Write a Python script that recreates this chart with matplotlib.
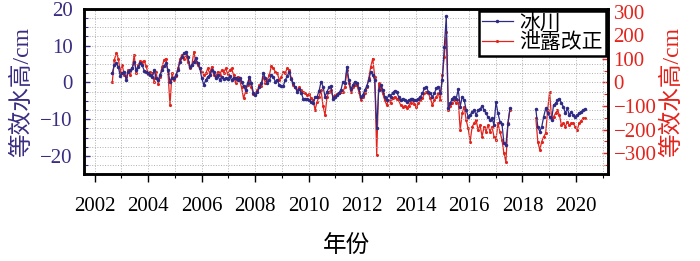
import numpy as np
import matplotlib
matplotlib.use('Agg')
import matplotlib.pyplot as plt
from matplotlib.ticker import MultipleLocator

plt.rcParams['font.family'] = ['Liberation Serif', 'Noto Sans CJK SC']
plt.rcParams['axes.unicode_minus'] = True

# segment time ranges (decimal years), data roughly monthly
seg1_range = (2002.66, 2017.53)
seg2_range = (2018.50, 2020.34)

# glacier signal, cm
glacier_1 = [2.6, 4.7, 5.2, 4.2, 1.7, 2.6, 2.9, 0.6, 2.9, 3.3, 3.8, 5.6, 3.3, 4.2, 5.3, 4.7,
             3.2, 2.9, 2.6, 2.0, 1.5, 3.3, 1.3, 0.6, 2.0, 3.3, 4.4, 5.2, 3.3, 0.2, 1.3, 1.1,
             2.0, 3.3, 5.6, 7.0, 7.9, 8.3, 7.0, 4.2, 4.7, 5.6, 6.5, 5.2, 3.8, 1.1, -0.7, 0.6,
             1.5, 2.0, 3.3, 2.9, 1.1, 2.0, 0.6, 1.5, 0.8, 1.1, 0.8, 1.7, 0.6, 1.3, 1.1, 0.6,
             1.3, 0.2, -1.0, -2.1, -0.3, 1.5, -0.3, -3.0, -3.5, -2.5, -1.4, -0.3, 2.6, 1.1,
             -0.1, 0.6, 2.0, 1.5, 0.2, 0.6, -0.7, -1.0, -1.0, 0.6, 1.7, 2.9, 0.8, -0.3, -1.4,
             -2.5, -1.9, -2.8, -4.4, -4.6, -4.6, -4.8, -5.3, -5.7, -3.9, -3.9, -2.3, 0.2, -1.2,
             -3.9, -2.5, -1.4, -1.0, -4.4, -3.9, -3.5, -2.8, -2.1, 0.2, -0.3, 4.2,
             0.6, -1.9, -0.7, 0.2, -0.3, -1.6, -3.9, -3.5, -2.1, -1.0, 0.6, 2.9, 2.0, 0.6,
             -12.5, -2.1, -0.7, -2.1, -3.9, -4.8, -3.5, -3.9, -2.8, -2.3, -2.5, -3.9, -4.8,
             -4.4, -4.8, -5.3, -4.8, -4.6, -4.4, -4.8, -4.8, -4.4, -3.9, -3.0, -1.6, -1.4,
             -2.5, -3.0, -3.9, -3.0, -1.6, -1.2, -3.0, 0.6, 9.7, 18.0, -7.1, -5.7, -4.4, -3.9,
             -4.4, -1.9, -6.6, -3.9, -4.8, -7.5, -9.3, -8.9, -8.0, -7.5, -8.9, -7.5, -7.3,
             -6.4, -7.5, -8.4, -9.5, -10.2, -9.8, -11.6, -5.3, -8.4, -10.7, -11.2, -16.6,
             -17.0, -11.2, -7.1]
glacier_2 = [-7.3, -12.1, -13.4, -12.1, -9.3, -7.1, -8.4, -9.3, -10.2, -6.2, -5.7, -4.8,
             -4.4, -5.7, -6.6, -8.4, -7.1, -8.9, -8.0, -8.9, -9.3, -8.9, -8.4, -8.0, -7.5, -7.3]

# leakage corrected signal, right axis units
leak_1 = [3, 95, 125, 101, 45, 73, 31, 21, 52, 31, 59, 116, 38, 73, 90, 87, 92, 69, 36, 45,
          38, 3, 45, -7, 24, 66, 95, 101, 41, -96, 38, 10, 27, 59, 97, 116, 101, 116, 87, 59,
          73, 129, 87, 73, 59, 45, 31, 38, 59, 38, 66, 31, 24, 45, 31, 52, 41, 59, 36, 52, 59,
          31, -2, 24, 10, -21, -68, -40, -12, 10, -21, -50, -44, -33, -12, -16, 24, -2, 12,
          31, 69, 59, 45, 38, 10, 21, 45, 41, 59, 52, 17, -12, -21, -33, -21, -33, -40, -47,
          -54, -50, -68, -75, -117, -82, -61, -33, -100, -139, -61, -40, -33, -61, -54, -50,
          -47, -40, -40, -19, 52,
          -4, -40, -21, -12, -12, -40, -75, -61, -47, -21, 17, 66, 101, 24, -308, -4, -26,
          -47, -75, -96, -75, -89, -68, -61, -72, -75, -96, -103, -100, -110, -100, -86, -75,
          -92, -106, -89, -75, -68, -47, -40, -47, -68, -96, -75, -61, -47, -75, 31, 109, 215,
          -117, -100, -89, -75, -89, -75, -202, -131, -103, -160, -195, -251, -188, -174,
          -160, -202, -181, -230, -188, -209, -181, -209, -188, -230, -244, -174, -209, -244,
          -301, -336, -174, -117]
leak_2 = [-153, -251, -287, -251, -230, -216, -117, -40, -153, -146, -131, -117, -139, -181,
          -174, -188, -167, -181, -174, -174, -188, -202, -174, -163, -153, -153]

year_ticks = list(range(2002, 2021, 2))
left_ticks = [-20, -10, 0, 10, 20]
right_ticks = [-300, -200, -100, 0, 100, 200, 300]

blue = '#2E2A85'
red = '#E3231C'
label_blue = '#3A2C80'
fs = 15

fig = plt.figure(figsize=(7, 2.61), dpi=100)
ax = fig.add_axes([0.12, 0.332, 0.7486, 0.6345])
ax2 = ax.twinx()

def seg_time(rng, vals):
    return np.linspace(rng[0], rng[1], len(vals))

ax.plot(seg_time(seg1_range, glacier_1), glacier_1, color=blue, lw=0.9,
        marker='.', ms=3, label='冰川', zorder=3)
ax.plot(seg_time(seg2_range, glacier_2), glacier_2, color=blue, lw=0.9,
        marker='.', ms=3, zorder=3)
ax2.plot(seg_time(seg1_range, leak_1), leak_1, color=red, lw=0.9,
         marker='.', ms=2.5, label='泄露改正')
ax2.plot(seg_time(seg2_range, leak_2), leak_2, color=red, lw=0.9,
         marker='.', ms=2.5)

ax.set_zorder(ax2.get_zorder() + 1)
ax.patch.set_visible(False)

ax.set_xlim(2001.6, 2021.2)
ax.set_ylim(-25, 20)
ax2.set_ylim(-390, 312)

ax.set_xticks(year_ticks)
ax.xaxis.set_minor_locator(MultipleLocator(1))
ax.set_yticks(left_ticks)
ax.yaxis.set_minor_locator(MultipleLocator(2.5))
ax2.set_yticks(right_ticks)
ax2.yaxis.set_minor_locator(MultipleLocator(50))

ax.tick_params(axis='x', which='major', direction='out', length=6, width=1,
               labelsize=fs, pad=10, colors='black')
ax.tick_params(axis='x', which='minor', direction='out', length=3, width=0.8)
ax.tick_params(axis='y', which='both', direction='in', colors=label_blue,
               labelsize=fs, pad=8)
ax.tick_params(axis='y', which='major', length=4, width=1)
ax.tick_params(axis='y', which='minor', length=3, width=0.8)
ax2.tick_params(axis='y', which='both', direction='in', colors=red,
                labelsize=fs, pad=4)
ax2.tick_params(axis='y', which='major', length=4, width=1)
ax2.tick_params(axis='y', which='minor', length=3, width=0.8)

ax.grid(True, which='both', axis='x', ls=':', lw=0.7, color='#b0b0b0')
ax.grid(True, which='both', axis='y', ls=':', lw=0.7, color='#b0b0b0')

for a in (ax, ax2):
    for s in a.spines.values():
        s.set_linewidth(1.8)
        s.set_color('black')

ax.set_ylabel('等效水高/cm', color=label_blue, fontsize=17, labelpad=5)
ax2.set_ylabel('等效水高/cm', color=red, fontsize=17, labelpad=3)
ax.set_xlabel('年份', fontsize=17, labelpad=14)

h1, l1 = ax.get_legend_handles_labels()
h2, l2 = ax2.get_legend_handles_labels()
leg = ax.legend(h1 + h2, l1 + l2, loc='upper right', fontsize=15, frameon=True,
                fancybox=False, edgecolor='black', framealpha=1,
                borderpad=0.15, labelspacing=0.0, handlelength=1.5,
                handletextpad=0.3, borderaxespad=0.1)
leg.get_frame().set_linewidth(1.8)

fig.savefig('out.png', dpi=100)
